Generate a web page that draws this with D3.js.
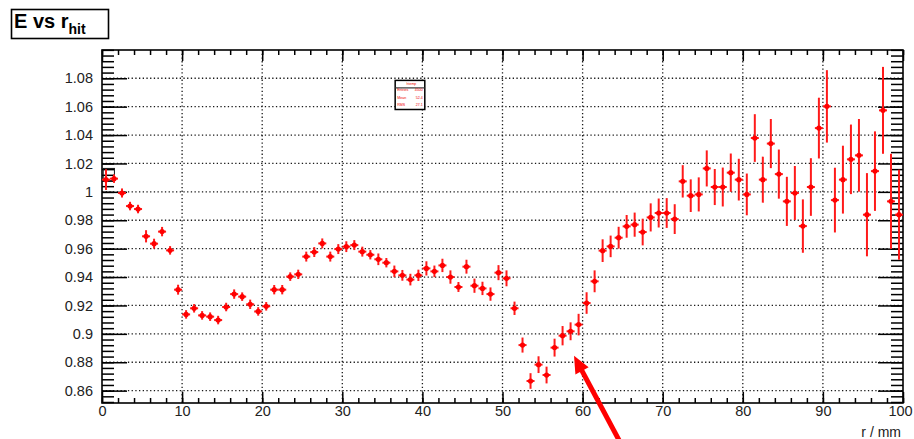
<!DOCTYPE html>
<html>
<head>
<meta charset="utf-8">
<script src="https://cdn.jsdelivr.net/npm/d3@7"></script>
<style>
  html, body { margin: 0; padding: 0; background: #fff; }
  svg { display: block; font-family: "Liberation Sans", Arial, Helvetica, sans-serif; }
</style>
</head>
<body>
<svg id="chart" width="914" height="439"></svg>
<script>
// Mean energy per 1 mm bin of hit radius (bin i covers [i, i+1) mm)
const binLow = d3.range(0, 100);
const eMean = [
  1.0086, 1.0093, 0.9992, 0.9900, 0.9879, 0.9687, 0.9635, 0.9720, 0.9588, 0.9311,
  0.9137, 0.9180, 0.9130, 0.9121, 0.9097, 0.9189, 0.9280, 0.9262, 0.9208, 0.9158,
  0.9194, 0.9311, 0.9311, 0.9403, 0.9419, 0.9544, 0.9576, 0.9637, 0.9544, 0.9597,
  0.9614, 0.9625, 0.9579, 0.9557, 0.9525, 0.9501, 0.9440, 0.9412, 0.9382, 0.9412,
  0.9461, 0.9440, 0.9482, 0.9400, 0.9330, 0.9473, 0.9339, 0.9320, 0.9280, 0.9431,
  0.9391, 0.9180, 0.8921, 0.8668, 0.8783, 0.8710, 0.8903, 0.8987, 0.9018, 0.9065,
  0.9217, 0.9370, 0.9586, 0.9616, 0.9677, 0.9757, 0.9769, 0.9717, 0.9820, 0.9851,
  0.9851, 0.9808, 1.0074, 0.9973, 0.9982, 1.0165, 1.0034, 1.0034, 1.0135, 1.0086,
  0.9982, 1.0379, 1.0086, 1.0340, 1.0125, 0.9933, 0.9992, 0.9759, 1.0034, 1.0449,
  1.0602, 0.9942, 1.0086, 1.0229, 1.0257, 0.9839, 1.0146, 1.0574, 0.9933, 0.9839
];
const eErr = [
  0.0073, 0.0030, 0.0032, 0.0030, 0.0030, 0.0043, 0.0035, 0.0033, 0.0030, 0.0035,
  0.0030, 0.0030, 0.0030, 0.0030, 0.0030, 0.0030, 0.0033, 0.0030, 0.0033, 0.0030,
  0.0030, 0.0033, 0.0033, 0.0030, 0.0033, 0.0035, 0.0035, 0.0035, 0.0035, 0.0035,
  0.0038, 0.0035, 0.0035, 0.0033, 0.0041, 0.0033, 0.0041, 0.0038, 0.0041, 0.0040,
  0.0050, 0.0041, 0.0047, 0.0047, 0.0035, 0.0049, 0.0050, 0.0047, 0.0047, 0.0053,
  0.0056, 0.0047, 0.0053, 0.0055, 0.0059, 0.0059, 0.0063, 0.0068, 0.0063, 0.0076,
  0.0076, 0.0077, 0.0080, 0.0076, 0.0077, 0.0080, 0.0085, 0.0094, 0.0099, 0.0102,
  0.0105, 0.0105, 0.0114, 0.0115, 0.0120, 0.0127, 0.0127, 0.0137, 0.0135, 0.0147,
  0.0147, 0.0168, 0.0162, 0.0173, 0.0173, 0.0173, 0.0190, 0.0188, 0.0203, 0.0214,
  0.0255, 0.0228, 0.0239, 0.0245, 0.0256, 0.0293, 0.0280, 0.0306, 0.0335, 0.0317
];
const binWidth = 1;

// Axis ticks and labels
const xMajor = [0, 10, 20, 30, 40, 50, 60, 70, 80, 90, 100];
const xMinor = d3.range(0, 101, 2);
const yMajor = [0.86, 0.88, 0.9, 0.92, 0.94, 0.96, 0.98, 1, 1.02, 1.04, 1.06, 1.08];
const yMinor = d3.range(0, 63).map(i => +(0.852 + i * 0.004).toFixed(3));
const xTitle = "r / mm";
const statsRows = [["Entries", "4500"], ["Mean", "52.4"], ["RMS", "27.1"]];
// Annotation arrow, in data units: [tail, tip]
const arrowPts = [[64.7, 0.8235], [58.93, 0.8845]];

const svg = d3.select("#chart");
const frame = { left: 102, right: 903, top: 50, bottom: 403 };
const x = d3.scaleLinear().domain([0, 100]).range([frame.left, frame.right]);
const y = d3.scaleLinear().domain([0.8513, 1.0999]).range([frame.bottom, frame.top]);

// Title pave
svg.append("rect").attr("x", 11.5).attr("y", 9.5).attr("width", 97).attr("height", 29)
  .attr("fill", "#fff").attr("stroke", "#000").attr("stroke-width", 1.6);
const title = svg.append("text").attr("x", 14).attr("y", 28)
  .attr("font-weight", "bold").attr("font-size", 20).attr("fill", "#000");
title.append("tspan").text("E vs r");
title.append("tspan").attr("font-size", 14).attr("dy", 6).text("hit");

// Dotted grid
const grid = svg.append("g").attr("stroke", "#1a1a1a").attr("stroke-width", 1.3)
  .attr("stroke-dasharray", "1.3,2.4");
grid.selectAll("line.gx").data(xMajor.filter(v => v > 0 && v < 100)).join("line")
  .attr("x1", d => x(d)).attr("x2", d => x(d)).attr("y1", frame.top).attr("y2", frame.bottom);
grid.selectAll("line.gy").data(yMajor).join("line")
  .attr("y1", d => y(d)).attr("y2", d => y(d)).attr("x1", frame.left).attr("x2", frame.right);

// Axes: ticks point into the frame
function styleAxis(g) {
  g.select(".domain").remove();
  g.selectAll(".tick line").attr("stroke", "#000").attr("stroke-width", 1.5);
  g.selectAll("text").attr("fill", "#222").attr("font-size", 14.5)
    .attr("font-family", "'Liberation Sans', Arial, Helvetica, sans-serif");
}
svg.append("g").attr("transform", `translate(${frame.left},0)`)
  .call(d3.axisLeft(y).tickValues(yMinor).tickSize(-12).tickFormat(""))
  .call(styleAxis);
svg.append("g").attr("transform", `translate(${frame.left},0)`)
  .call(d3.axisLeft(y).tickValues(yMajor).tickSize(-25).tickPadding(9).tickFormat(d3.format("~g")))
  .call(styleAxis);
svg.append("g").attr("transform", `translate(${frame.right},0)`)
  .call(d3.axisRight(y).tickValues(yMinor).tickSize(-12).tickFormat(""))
  .call(styleAxis);
svg.append("g").attr("transform", `translate(${frame.right},0)`)
  .call(d3.axisRight(y).tickValues(yMajor).tickSize(-25).tickFormat(""))
  .call(styleAxis);
svg.append("g").attr("transform", `translate(0,${frame.bottom})`)
  .call(d3.axisBottom(x).tickValues(xMinor).tickSize(-5).tickFormat(""))
  .call(styleAxis);
const xAxisG = svg.append("g").attr("transform", `translate(0,${frame.bottom})`)
  .call(d3.axisBottom(x).tickValues(xMajor).tickSize(-11).tickPadding(3).tickFormat(d3.format("d")))
  .call(styleAxis);
// keep the last label inside the page
xAxisG.selectAll(".tick text").filter(d => d === 100).attr("dx", -3);
svg.append("g").attr("transform", `translate(0,${frame.top})`)
  .call(d3.axisTop(x).tickValues(xMinor).tickSize(-5).tickFormat(""))
  .call(styleAxis);
svg.append("g").attr("transform", `translate(0,${frame.top})`)
  .call(d3.axisTop(x).tickValues(xMajor).tickSize(-11).tickFormat(""))
  .call(styleAxis);

// Frame
svg.append("rect").attr("x", frame.left).attr("y", frame.top)
  .attr("width", frame.right - frame.left).attr("height", frame.bottom - frame.top)
  .attr("fill", "none").attr("stroke", "#000").attr("stroke-width", 1.6);

svg.append("text").attr("x", frame.right - 2).attr("y", 437).attr("text-anchor", "end")
  .attr("font-size", 14).attr("fill", "#222").text(xTitle);

// Small pave near the first bins
svg.append("rect").attr("x", x(0.15)).attr("y", y(1.0165)).attr("width", x(1.55) - x(0.15))
  .attr("height", y(1.0075) - y(1.0165)).attr("fill", "none").attr("stroke", "#111").attr("stroke-width", 1);

// Profile points with error bars
svg.append("defs").append("clipPath").attr("id", "plotClip").append("rect")
  .attr("x", frame.left).attr("y", frame.top)
  .attr("width", frame.right - frame.left).attr("height", frame.bottom - frame.top);
const pts = svg.append("g").attr("clip-path", "url(#plotClip)");
const bins = binLow.map((lo, i) => ({ lo, v: eMean[i], e: eErr[i] }));
const marks = pts.selectAll("g.bin").data(bins).join("g").attr("class", "bin");
marks.append("line")
  .attr("x1", d => x(d.lo + binWidth / 2)).attr("x2", d => x(d.lo + binWidth / 2))
  .attr("y1", d => y(d.v - d.e)).attr("y2", d => y(d.v + d.e))
  .attr("stroke", "#ff1a1a").attr("stroke-width", 2);
marks.append("line")
  .attr("x1", d => x(d.lo)).attr("x2", d => x(d.lo + binWidth))
  .attr("y1", d => y(d.v)).attr("y2", d => y(d.v))
  .attr("stroke", "#ff1a1a").attr("stroke-width", 2);
marks.append("circle")
  .attr("cx", d => x(d.lo + binWidth / 2)).attr("cy", d => y(d.v)).attr("r", 2.6)
  .attr("fill", "#ff0000");

// Stats pave
const sx = x(36.6), sy = y(1.0785), sw = x(40.3) - x(36.6), sh = y(1.058) - y(1.0785);
const stats = svg.append("g");
stats.append("rect").attr("x", sx).attr("y", sy).attr("width", sw).attr("height", sh)
  .attr("fill", "#fff").attr("stroke", "#000").attr("stroke-width", 1.5);
stats.append("line").attr("x1", sx).attr("x2", sx + sw).attr("y1", sy + 7.5).attr("y2", sy + 7.5)
  .attr("stroke", "#333").attr("stroke-width", 1.2);
stats.append("text").attr("x", sx + sw * 0.55).attr("y", sy + 5).attr("font-size", 3.5)
  .attr("fill", "#e00").attr("text-anchor", "middle").text("htemp");
statsRows.forEach((r, i) => {
  stats.append("text").attr("x", sx + 2).attr("y", sy + 11 + i * 7.3).attr("font-size", 3.6)
    .attr("fill", "#e00").text(r[0]);
  stats.append("text").attr("x", sx + sw - 2).attr("y", sy + 11 + i * 7.3).attr("font-size", 3.6)
    .attr("fill", "#e00").attr("text-anchor", "end").text(r[1]);
});

// Arrow pointing at the dip
const [tail, tip] = arrowPts.map(p => [x(p[0]), y(p[1])]);
const dx = tip[0] - tail[0], dy = tip[1] - tail[1], len = Math.hypot(dx, dy);
const ux = dx / len, uy = dy / len, headLen = 17, headHalf = 7.5;
const base = [tip[0] - ux * headLen, tip[1] - uy * headLen];
svg.append("line").attr("x1", tail[0]).attr("y1", tail[1])
  .attr("x2", base[0] + ux * 2).attr("y2", base[1] + uy * 2)
  .attr("stroke", "#ff0000").attr("stroke-width", 5);
svg.append("path")
  .attr("d", d3.line()([tip,
    [base[0] - uy * headHalf, base[1] + ux * headHalf],
    [base[0] + uy * headHalf, base[1] - ux * headHalf]]) + "Z")
  .attr("fill", "#ff0000");
</script>
</body>
</html>
